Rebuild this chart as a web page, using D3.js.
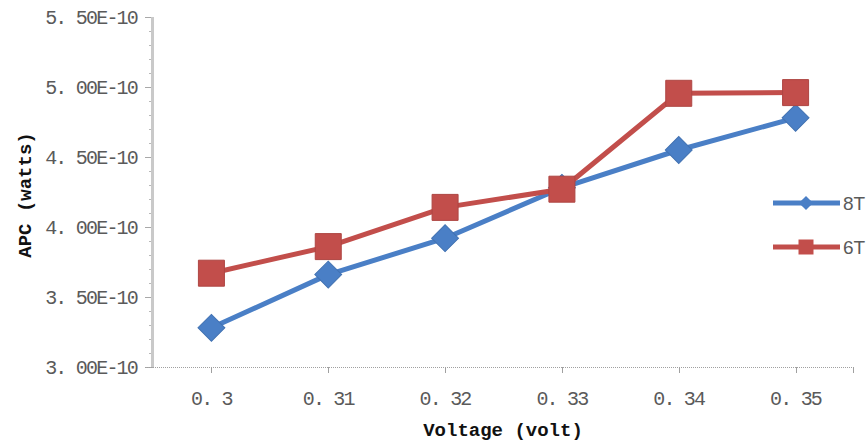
<!DOCTYPE html>
<html>
<head>
<meta charset="utf-8">
<script src="https://cdn.jsdelivr.net/npm/d3@7"></script>
<style>
  html, body { margin: 0; padding: 0; background: #fff; }
  svg { display: block; }
</style>
</head>
<body>
<svg id="chart" width="866" height="444"></svg>
<script>
// ---- data ----
const categories = [0.30, 0.31, 0.32, 0.33, 0.34, 0.35];
const xTickLabels = ["0. 3", "0. 31", "0. 32", "0. 33", "0. 34", "0. 35"];
const series8T = [3.28e-10, 3.66e-10, 3.92e-10, 4.28e-10, 4.55e-10, 4.78e-10];
const series6T = [3.67e-10, 3.86e-10, 4.14e-10, 4.27e-10, 4.955e-10, 4.96e-10];
const seriesNames = ["8T", "6T"];
const yTickValues = [3.0e-10, 3.5e-10, 4.0e-10, 4.5e-10, 5.0e-10, 5.5e-10];
const yTickLabels = ["3. 00E-10", "3. 50E-10", "4. 00E-10", "4. 50E-10", "5. 00E-10", "5. 50E-10"];
const yMinorValues = d3.range(0, 26).map(i => 3.0e-10 + i * 0.1e-10);
const xTitle = "Voltage (volt)";
const yTitle = "APC (watts)";

// ---- layout ----
const svg = d3.select("#chart");
const plot = { left: 153, right: 854, top: 17, bottom: 367 };
const blue = "#4a7fc6", red = "#c24e4b";
const gray = "#5a5a5a";
const font = "'Liberation Mono', 'DejaVu Sans Mono', monospace";

const x = d3.scaleBand().domain(categories).range([plot.left, plot.right]);
const xc = v => x(v) + x.bandwidth() / 2;
const y = d3.scaleLinear().domain([3.0e-10, 5.5e-10]).range([plot.bottom, plot.top]);

// y axis: thick light line with ticks
const yAxisG = svg.append("g");
yAxisG.selectAll("line.minor").data(yMinorValues).enter().append("line")
  .attr("x1", plot.left - 4).attr("x2", plot.left)
  .attr("y1", d => Math.round(y(d)) + 0.5).attr("y2", d => Math.round(y(d)) + 0.5)
  .attr("stroke", "#b8b8b8").attr("stroke-width", 1);
yAxisG.selectAll("line.major").data(yTickValues).enter().append("line")
  .attr("x1", plot.left - 8).attr("x2", plot.left)
  .attr("y1", d => Math.round(y(d)) + 0.5).attr("y2", d => Math.round(y(d)) + 0.5)
  .attr("stroke", "#a8a8a8").attr("stroke-width", 1);
yAxisG.append("line")
  .attr("x1", plot.left - 0.5).attr("x2", plot.left - 0.5)
  .attr("y1", plot.top).attr("y2", plot.bottom)
  .attr("stroke", "#c9c9c9").attr("stroke-width", 3);
yAxisG.selectAll("text").data(yTickValues).enter().append("text")
  .attr("x", 137).attr("y", d => y(d))
  .attr("dy", "0.35em")
  .attr("text-anchor", "end")
  .attr("font-family", font).attr("font-size", 20)
  .attr("letter-spacing", -1.8)
  .attr("fill", gray)
  .text((d, i) => yTickLabels[i]);

// x axis: dotted line with ticks at categories
const xAxisG = svg.append("g");
xAxisG.append("line")
  .attr("x1", plot.left - 8).attr("x2", plot.right)
  .attr("y1", plot.bottom + 0.5).attr("y2", plot.bottom + 0.5)
  .attr("stroke", "#a0a0a0").attr("stroke-width", 1)
  .attr("stroke-dasharray", "1,1");
xAxisG.selectAll("line.tick").data(categories).enter().append("line")
  .attr("x1", d => Math.round(xc(d)) + 0.5).attr("x2", d => Math.round(xc(d)) + 0.5)
  .attr("y1", plot.bottom).attr("y2", plot.bottom + 6)
  .attr("stroke", "#a0a0a0").attr("stroke-width", 1);
xAxisG.append("line")
  .attr("x1", plot.right - 0.5).attr("x2", plot.right - 0.5)
  .attr("y1", plot.bottom).attr("y2", plot.bottom + 6)
  .attr("stroke", "#a0a0a0").attr("stroke-width", 1);
xAxisG.selectAll("text").data(categories).enter().append("text")
  .attr("x", d => xc(d)).attr("y", 398)
  .attr("dy", "0.35em")
  .attr("text-anchor", "middle")
  .attr("font-family", font).attr("font-size", 20)
  .attr("letter-spacing", -1.8)
  .attr("fill", gray)
  .text((d, i) => xTickLabels[i]);

// titles
svg.append("text")
  .attr("x", 503).attr("y", 429).attr("dy", "0.35em")
  .attr("text-anchor", "middle")
  .attr("font-family", font).attr("font-size", 19).attr("font-weight", "bold")
  .attr("fill", "#111")
  .text(xTitle);
svg.append("text")
  .attr("transform", "translate(24,195) rotate(-90)")
  .attr("dy", "0.35em")
  .attr("text-anchor", "middle")
  .attr("font-family", font).attr("font-size", 19).attr("font-weight", "bold")
  .attr("fill", "#111")
  .text(yTitle);

// series
const line = d3.line().x((d, i) => xc(categories[i])).y(d => y(d));
const diamond = d3.symbol().type(d3.symbolSquare).size(19 * 19);
const square = d3.symbol().type(d3.symbolSquare).size(26 * 26);

function drawSeries(vals, color, markerGen, rotate) {
  const g = svg.append("g");
  g.append("path").datum(vals)
    .attr("d", line)
    .attr("fill", "none").attr("stroke", color)
    .attr("stroke-width", 5).attr("stroke-linejoin", "round");
  g.selectAll("path.m").data(vals).enter().append("path")
    .attr("class", "m")
    .attr("d", markerGen)
    .attr("transform", (d, i) => `translate(${xc(categories[i])},${y(d)})` + (rotate ? " rotate(45)" : ""))
    .attr("fill", color)
    .attr("stroke", d3.color(color).darker(0.3)).attr("stroke-width", 1);
}
drawSeries(series8T, blue, diamond, true);
drawSeries(series6T, red, square, false);

// legend
const legend = [
  { name: seriesNames[0], color: blue, y: 203, gen: d3.symbol().type(d3.symbolSquare).size(10 * 10), rot: true },
  { name: seriesNames[1], color: red, y: 247, gen: d3.symbol().type(d3.symbolSquare).size(15 * 15), rot: false }
];
const lg = svg.append("g");
legend.forEach(l => {
  lg.append("line")
    .attr("x1", 773).attr("x2", 840).attr("y1", l.y).attr("y2", l.y)
    .attr("stroke", l.color).attr("stroke-width", 5);
  lg.append("path")
    .attr("d", l.gen())
    .attr("transform", `translate(806,${l.y})` + (l.rot ? " rotate(45)" : ""))
    .attr("fill", l.color);
  lg.append("text")
    .attr("x", 843).attr("y", l.y).attr("dy", "0.36em")
    .attr("font-family", "'Liberation Sans', Arial, sans-serif").attr("font-size", 19)
    .attr("fill", gray)
    .text(l.name);
});
</script>
</body>
</html>
